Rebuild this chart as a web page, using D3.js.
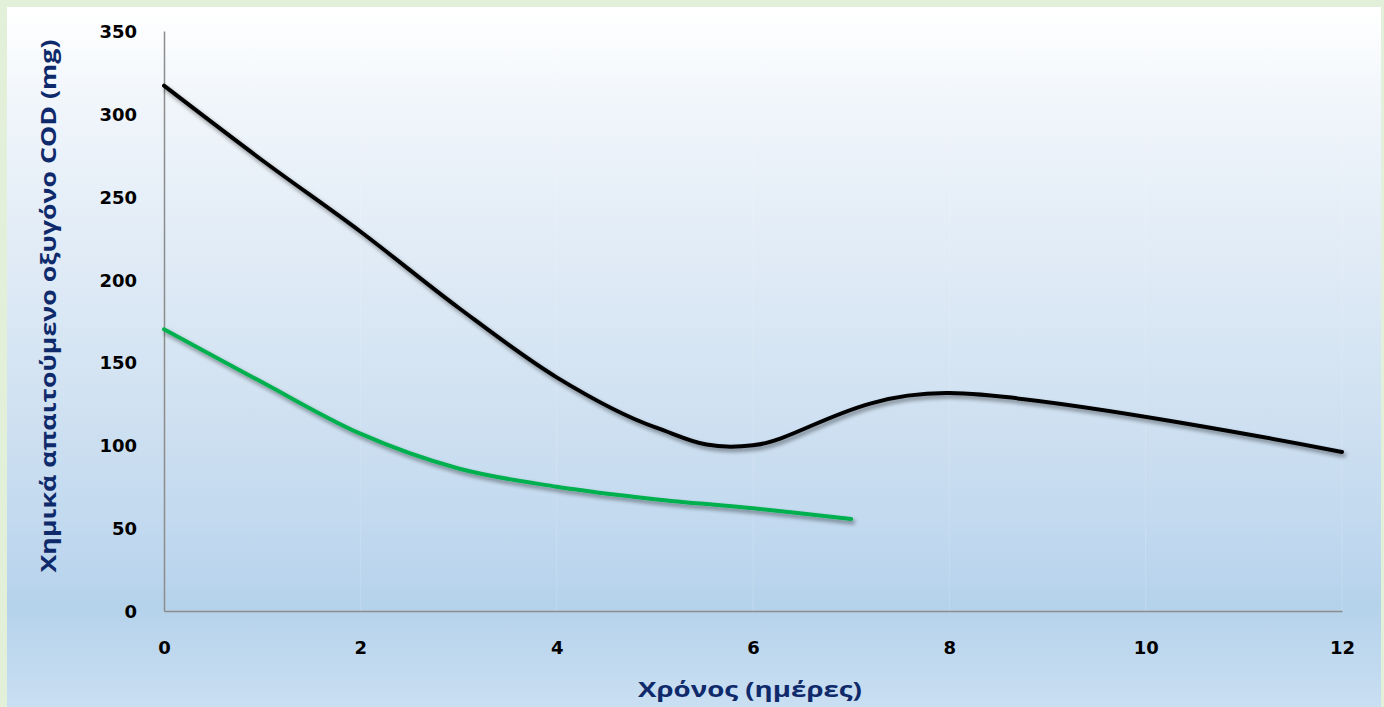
<!DOCTYPE html>
<html>
<head>
<meta charset="utf-8">
<script src="https://cdn.jsdelivr.net/npm/d3@7"></script>
<style>
  html, body { margin: 0; padding: 0; background: #e2efd9; }
  svg { display: block; }
</style>
</head>
<body>
<svg id="chart" width="1384" height="707"></svg>
<script>
// Sampling days for each series
const daysBlack = [0, 1, 2, 3, 4, 5, 6, 8, 12];
const daysGreen = [0, 1, 2, 3, 4, 5, 6, 7];
// COD (mg) for each series
const codBlack = [317, 272, 229, 183, 141, 111, 100, 131.5, 96];
const codGreen = [170, 138, 107, 86, 75, 67.5, 62, 55.5];
const xTicks = [0, 2, 4, 6, 8, 10, 12];
const yTicks = [0, 50, 100, 150, 200, 250, 300, 350];
const xTitle = "Χρόνος (ημέρες)";
const yTitle = "Χημικά απαιτούμενο οξυγόνο COD (mg)";

const W = 1384, H = 707;
const svg = d3.select("#chart");
const defs = svg.append("defs");

// Card background: white fading to pale blue
const grad = defs.append("linearGradient")
  .attr("id", "bg").attr("x1", 0).attr("y1", 0).attr("x2", 0).attr("y2", 1);
[[0, "#ffffff"], [0.16, "#eef4fa"], [0.35, "#e0ebf6"], [0.52, "#d3e3f2"],
 [0.76, "#bed7ee"], [0.83, "#b5d2eb"], [1, "#cde1f3"]]
  .forEach(([o, c]) => grad.append("stop").attr("offset", o).attr("stop-color", c));

// Soft drop shadow under the lines
const shadow = defs.append("filter").attr("id", "shadow")
  .attr("x", "-5%").attr("y", "-5%").attr("width", "110%").attr("height", "115%");
shadow.append("feGaussianBlur").attr("in", "SourceAlpha").attr("stdDeviation", 2.2).attr("result", "b");
shadow.append("feOffset").attr("in", "b").attr("dx", 2).attr("dy", 3).attr("result", "o");
shadow.append("feComponentTransfer").attr("in", "o").attr("result", "s")
  .append("feFuncA").attr("type", "linear").attr("slope", 0.45);
const merge = shadow.append("feMerge");
merge.append("feMergeNode").attr("in", "s");
merge.append("feMergeNode").attr("in", "SourceGraphic");

svg.append("rect").attr("x", 7).attr("y", 7).attr("width", 1374).attr("height", 720)
  .attr("fill", "url(#bg)");

const margin = { left: 164, right: W - 1342, top: 31, bottom: H - 611 };
const x = d3.scaleLinear().domain([0, 12]).range([margin.left, W - margin.right]);
const y = d3.scaleLinear().domain([0, 350]).range([H - margin.bottom, margin.top]);

// Faint vertical gridlines
svg.append("g").selectAll("line").data(xTicks.slice(1)).join("line")
  .attr("x1", d => x(d)).attr("x2", d => x(d))
  .attr("y1", y(350)).attr("y2", y(0))
  .attr("stroke", "#ffffff").attr("stroke-opacity", 0.15).attr("stroke-width", 1);

// Axes
const fontTick = "'DejaVu Sans', sans-serif";
const fontTitle = "'Open Sans', 'Noto Sans', sans-serif";
const xAxis = svg.append("g").attr("transform", `translate(0,${y(0)})`)
  .call(d3.axisBottom(x).tickValues(xTicks).tickSize(0).tickPadding(30).tickFormat(d3.format("d")));
const yAxis = svg.append("g").attr("transform", `translate(${x(0)},0)`)
  .call(d3.axisLeft(y).tickValues(yTicks).tickSize(0).tickPadding(27).tickFormat(d3.format("d")));
[xAxis, yAxis].forEach(g => {
  g.select(".domain").attr("stroke", "#8c8c8c").attr("stroke-width", 1.5);
  g.selectAll("text").attr("fill", "#000").attr("font-family", fontTick)
    .attr("font-weight", 700).attr("font-size", 18);
});
yAxis.selectAll("text").attr("dy", "0.36em");

// Series lines
const line = d3.line().curve(d3.curveCardinal.tension(0))
  .x(d => x(d[0])).y(d => y(d[1]));
const series = [
  { days: daysBlack, values: codBlack, color: "#000000" },
  { days: daysGreen, values: codGreen, color: "#00b050" }
];
svg.append("g").attr("filter", "url(#shadow)").selectAll("path").data(series).join("path")
  .attr("d", s => line(s.values.map((v, i) => [s.days[i], v])))
  .attr("fill", "none").attr("stroke", s => s.color)
  .attr("stroke-width", 4).attr("stroke-linecap", "round").attr("stroke-linejoin", "round");

// Axis titles
svg.append("text").attr("x", 750).attr("y", 697).attr("text-anchor", "middle")
  .attr("font-family", fontTitle).attr("font-weight", 700).attr("font-size", 22)
  .attr("fill", "#0f2a6b").attr("textLength", 224).attr("lengthAdjust", "spacingAndGlyphs")
  .text(xTitle);
svg.append("text").attr("transform", "translate(56,306) rotate(-90)").attr("text-anchor", "middle")
  .attr("font-family", fontTitle).attr("font-weight", 700).attr("font-size", 22)
  .attr("fill", "#0f2a6b").attr("textLength", 533).attr("lengthAdjust", "spacingAndGlyphs")
  .text(yTitle);
</script>
</body>
</html>
